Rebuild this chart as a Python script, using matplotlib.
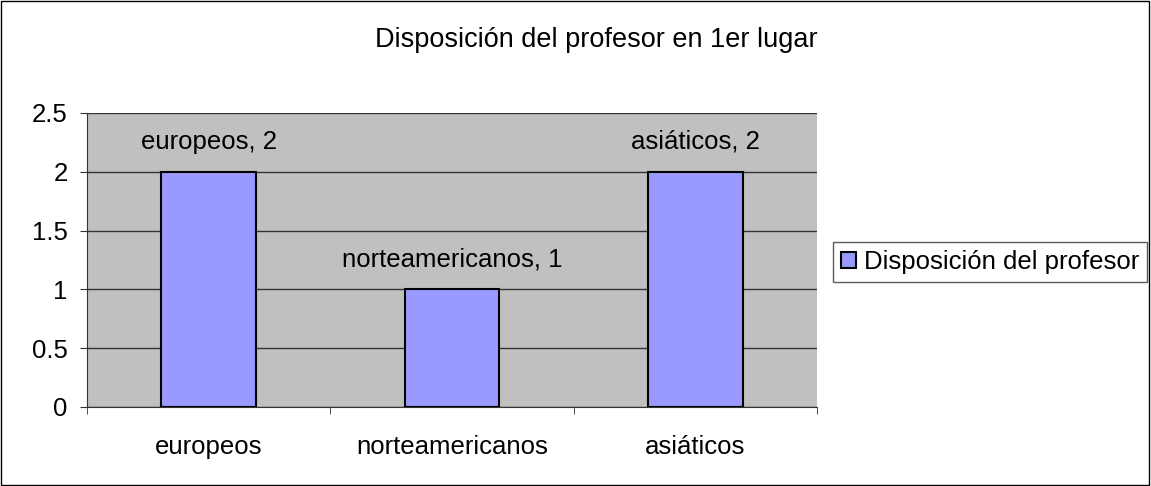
import matplotlib.pyplot as plt
import matplotlib.patches as mpatches
import numpy as np

categorias = ['europeos', 'norteamericanos', 'asiáticos']
valores = [2, 1, 2]
serie = 'Disposición del profesor'
titulo = 'Disposición del profesor en 1er lugar'

plt.rcParams['font.family'] = ['Liberation Sans', 'DejaVu Sans']
fs = 18.5

fig = plt.figure(figsize=(11.51, 4.86), dpi=100)
ax = fig.add_axes([0.0756, 0.1626, 0.6342, 0.6049])
ax.set_facecolor('#C0C0C0')

x = np.arange(len(categorias))
bars = ax.bar(x, valores, width=0.39, color='#9999FF', edgecolor='black',
              linewidth=1.5, label=serie, zorder=3)

for xi, cat, v in zip(x, categorias, valores):
    ax.annotate(f'{cat}, {v}', (xi, v), xytext=(0, 13), textcoords='offset points',
                ha='center', va='bottom', fontsize=fs)

ax.set_xlim(-0.5, 2.5)
ax.set_ylim(0, 2.5)
ax.set_yticks(np.arange(0, 2.51, 0.5))
ax.set_yticklabels(['0', '0.5', '1', '1.5', '2', '2.5'])
ax.yaxis.grid(True, color='#333333', linewidth=1, zorder=0)
ax.set_axisbelow(True)

ax.set_xticks(x)
ax.set_xticklabels(categorias)
ax.set_xticks([-0.5, 0.5, 1.5, 2.5], minor=True)
ax.tick_params(axis='x', which='major', length=0, pad=20, labelsize=fs)
ax.tick_params(axis='x', which='minor', length=5, color='#333333')
ax.tick_params(axis='y', length=5, color='#333333', labelsize=fs, pad=9)

for s in ['top', 'right']:
    ax.spines[s].set_visible(False)
ax.spines['left'].set_color('#333333')
ax.spines['bottom'].set_color('#333333')

fig.text(0.518, 0.918, titulo, ha='center', va='center', fontsize=19.5)

handle = mpatches.Patch(facecolor='#9999FF', edgecolor='black', linewidth=1.5)
leg = fig.legend([handle], [serie], loc='center left', bbox_to_anchor=(0.7237, 0.461),
                 fontsize=fs, frameon=True, fancybox=False, edgecolor='#333333',
                 handlelength=0.6, handleheight=0.6, handletextpad=0.3,
                 borderpad=0.3, borderaxespad=0)
leg.get_frame().set_linewidth(1)

fig.patches.append(mpatches.Rectangle((0.001, 0.002), 0.997, 0.995, transform=fig.transFigure,
                                      fill=False, edgecolor='black', linewidth=1))

fig.savefig('out.png', dpi=100)
